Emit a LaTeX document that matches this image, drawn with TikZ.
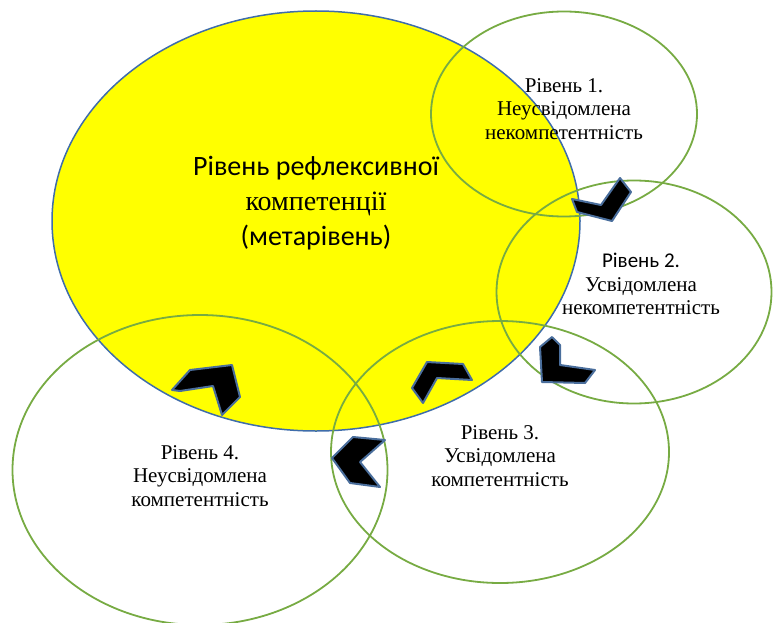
\documentclass[tikz,border=0pt]{standalone}
\usepackage{fontspec}
\setmainfont{Liberation Serif}
\newfontfamily\carl{Carlito}
\usetikzlibrary{shapes.geometric}
\definecolor{metayellow}{HTML}{FFFF00}
\definecolor{metablue}{HTML}{3F6DAA}
\definecolor{ringgreen}{HTML}{77AB43}
\definecolor{glowblue}{HTML}{4A6E9C}
\begin{document}
\begin{tikzpicture}[x=1pt,y=-1pt,
  ring/.style={ellipse, draw=ringgreen, line width=1.8pt, inner sep=0pt},
  lvl/.style={align=center, font=\fontsize{21}{23.5}\selectfont, inner sep=0pt},
  chev/.style={fill=black, draw=glowblue, line width=2pt, line join=round}]
\useasboundingbox (0,0) rectangle (773,623);
\node[ellipse, fill=metayellow, draw=metablue, line width=1.5pt, minimum width=528pt, minimum height=420pt, inner sep=0pt] (meta) at (316,221) {};
\node[ring, minimum width=266pt, minimum height=205pt] (c1) at (564,114) {};
\node[ring, minimum width=275pt, minimum height=223pt] (c2) at (634,292) {};
\node[ring, minimum width=338pt, minimum height=262pt] (c3) at (500,452) {};
\node[ring, minimum width=375pt, minimum height=310pt] (c4) at (200,470) {};
\node[align=center, font=\fontsize{28}{35}\selectfont, inner sep=0pt] (tmeta) at (316,203) {{\carl Рівень рефлексивної}\\компетенції\\{\carl (метарівень)}};
\node[lvl] (t1) at (564,109) {Рівень 1.\\Неусвідомлена\\некомпетентність};
\node[lvl] (t2) at (641,284) {{\carl Рівень 2.}\\Усвідомлена\\некомпетентність};
\node[lvl] (t3) at (500,456) {Рівень 3.\\Усвідомлена\\компетентність};
\node[lvl] (t4) at (200,476) {Рівень 4.\\Неусвідомлена\\компетентність};
\draw[chev] (572,199) -- (601,205) -- (620,178) -- (631,192) -- (612,221) -- (577,212) -- cycle;
\draw[chev] (552,337) -- (560,345) -- (560,365) -- (595,370) -- (585,383) -- (542,382) -- (540,347) -- cycle;
\draw[chev] (172,390) -- (190,370) -- (232,365) -- (240,397) -- (222,415) -- (213,386) -- (180,391) -- cycle;
\draw[chev] (427,362) -- (463,364) -- (472,380) -- (437,378) -- (423,403) -- (412,388) -- cycle;
\draw[chev] (332,458) -- (353,437) -- (385,440) -- (360,462) -- (380,487) -- (350,483) -- cycle;
\end{tikzpicture}
\end{document}
